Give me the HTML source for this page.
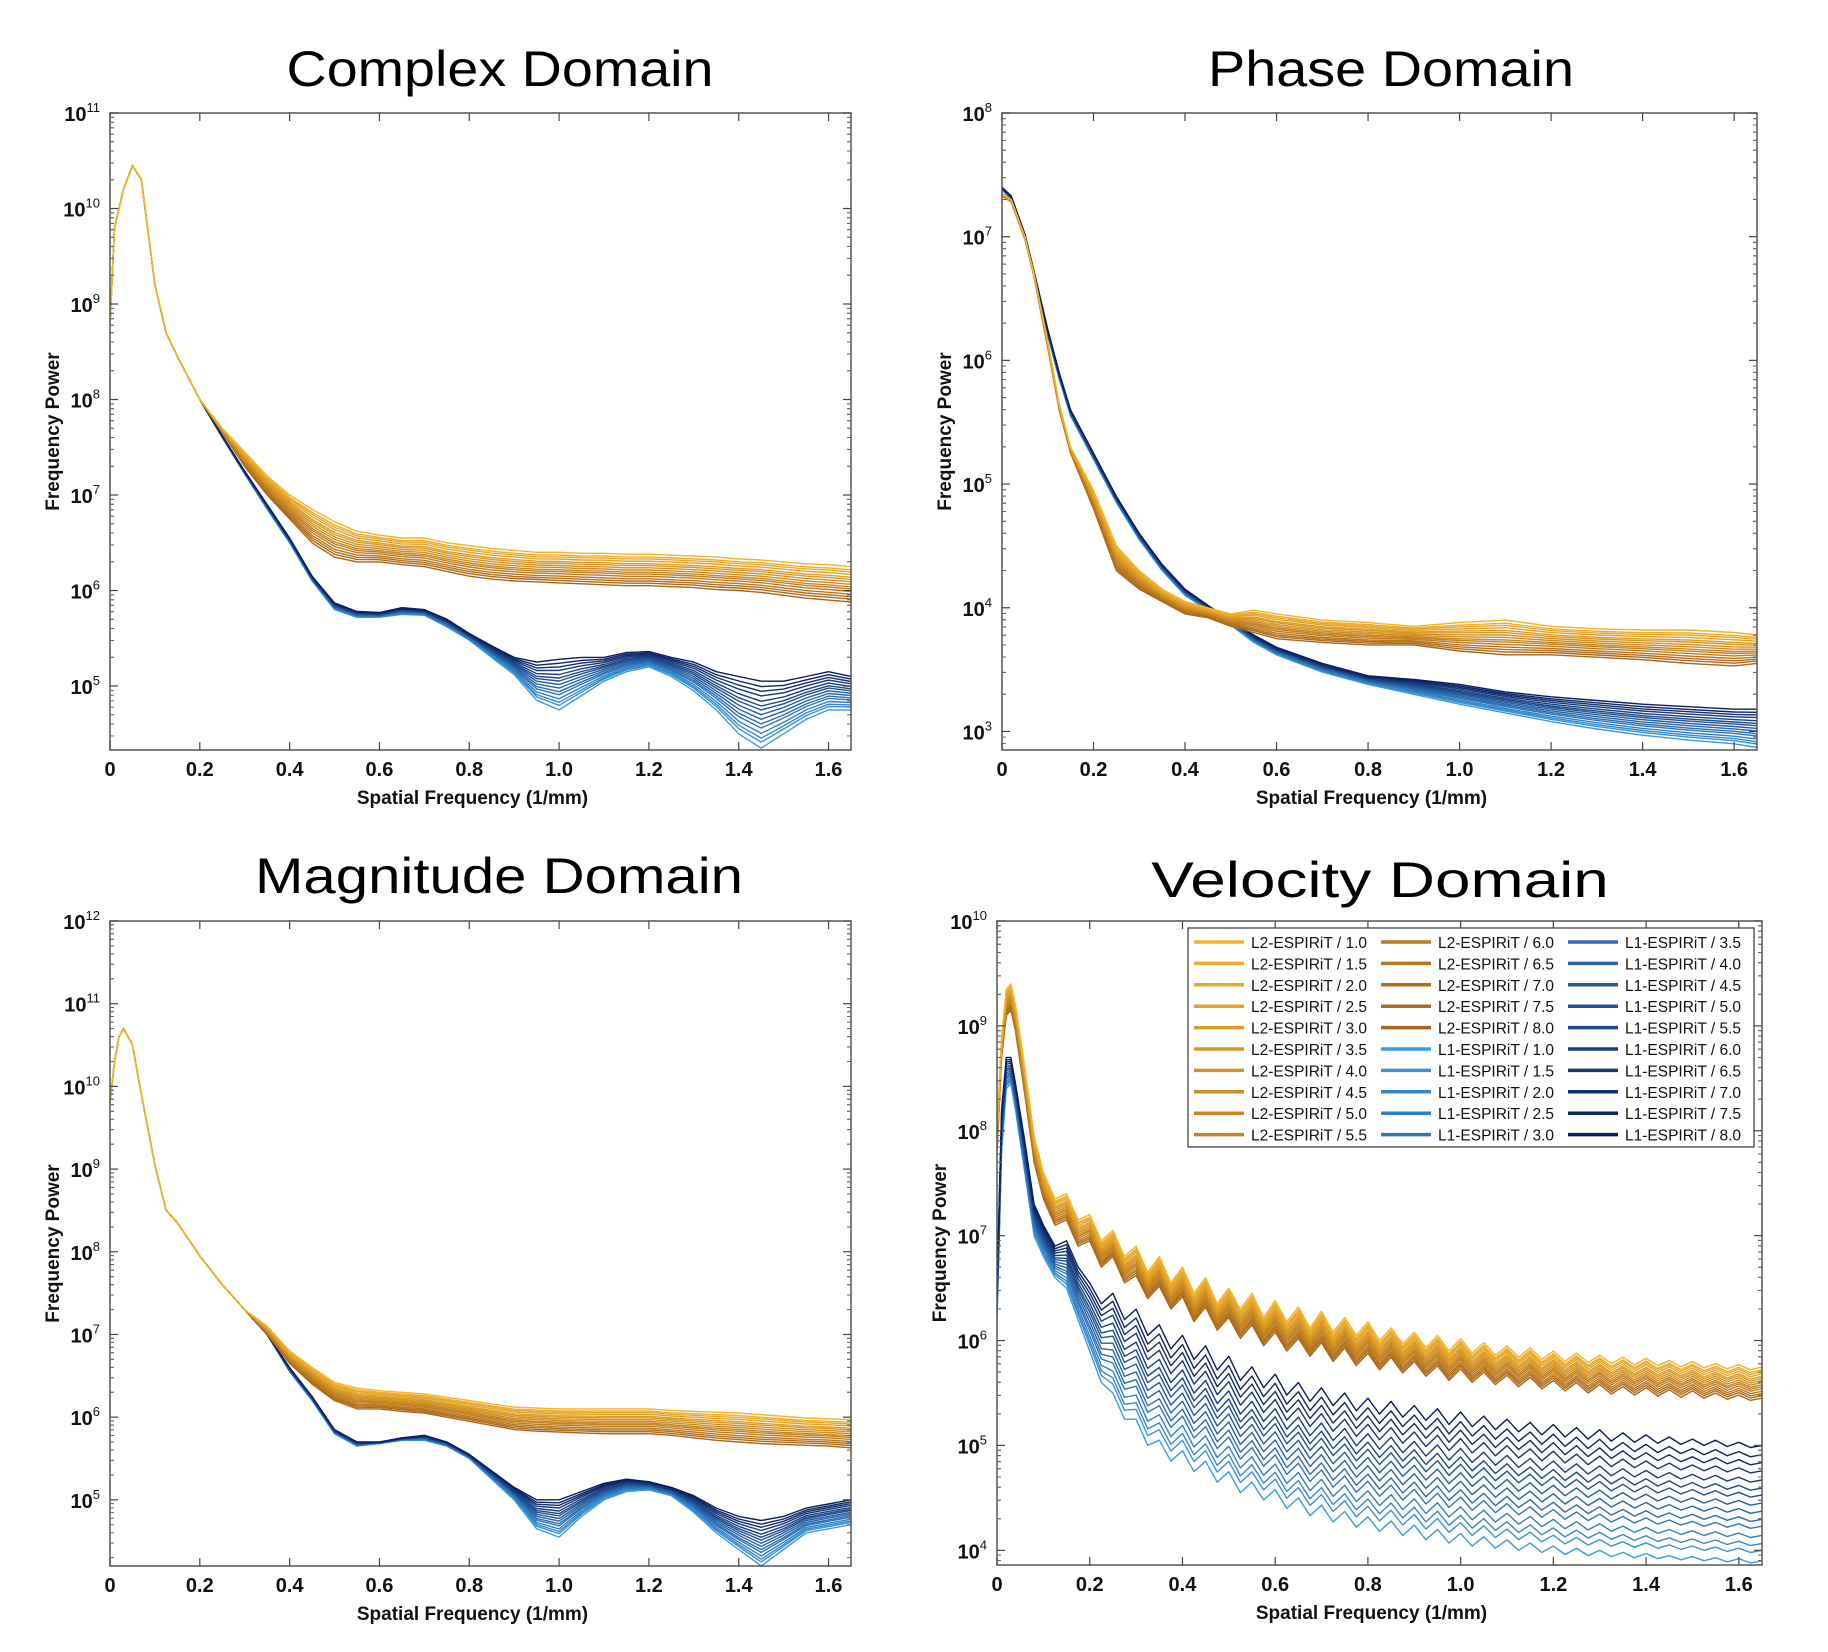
<!DOCTYPE html>
<html><head><meta charset="utf-8"><style>
html,body{margin:0;padding:0;background:#fff}
svg{display:block}
text{font-family:"Liberation Sans",sans-serif}
</style></head><body>
<svg id="fig" width="1828" height="1652" viewBox="0 0 1828 1652"></svg>
<script>
// ---------- DATA (log10 of frequency power) ----------
const regLabels=["1.0","1.5","2.0","2.5","3.0","3.5","4.0","4.5","5.0","5.5","6.0","6.5","7.0","7.5","8.0"];
const spread=[0,0.09,0.15,0.22,0.3,0.36,0.43,0.5,0.57,0.63,0.7,0.78,0.85,0.92,1];

const cX=[0,0.01,0.02,0.03,0.05,0.07,0.1,0.125,0.15,0.2,0.25,0.3,0.35,0.4,0.45,0.5,0.55,0.6,0.65,0.7,0.75,0.8,0.85,0.9,0.95,1.0,1.05,1.1,1.15,1.2,1.25,1.3,1.35,1.4,1.45,1.5,1.55,1.6,1.65];
const cL2hi=[8.8,9.8,10.0,10.2,10.45,10.3,9.2,8.7,8.45,8.0,7.7,7.45,7.2,7.0,6.85,6.72,6.62,6.58,6.55,6.55,6.5,6.47,6.44,6.42,6.4,6.4,6.39,6.39,6.38,6.38,6.37,6.36,6.35,6.33,6.32,6.3,6.28,6.27,6.25];
const cL2lo=[8.8,9.8,10.0,10.2,10.45,10.3,9.2,8.7,8.45,8.0,7.65,7.3,7.0,6.75,6.5,6.35,6.3,6.3,6.27,6.25,6.2,6.15,6.12,6.1,6.09,6.08,6.07,6.06,6.05,6.05,6.04,6.03,6.01,6.0,5.98,5.95,5.92,5.9,5.88];
const cL1hi=[8.8,9.8,10.0,10.2,10.45,10.3,9.2,8.7,8.45,8.0,7.62,7.25,6.9,6.55,6.15,5.87,5.78,5.77,5.82,5.8,5.7,5.55,5.42,5.3,5.25,5.28,5.3,5.3,5.35,5.36,5.3,5.25,5.15,5.1,5.05,5.05,5.1,5.15,5.1];
const cL1lo=[8.8,9.8,10.0,10.2,10.45,10.3,9.2,8.7,8.45,8.0,7.6,7.22,6.85,6.5,6.1,5.8,5.72,5.72,5.75,5.74,5.62,5.48,5.3,5.12,4.85,4.75,4.9,5.05,5.15,5.2,5.1,4.95,4.75,4.5,4.35,4.5,4.65,4.75,4.75];

const pX=[0,0.02,0.05,0.07,0.1,0.125,0.15,0.2,0.25,0.3,0.35,0.4,0.45,0.5,0.55,0.6,0.7,0.8,0.9,1.0,1.1,1.2,1.3,1.4,1.5,1.6,1.65];
const pL2hi=[7.35,7.3,7.0,6.7,6.15,5.65,5.3,4.95,4.5,4.3,4.15,4.05,4.0,3.95,3.98,3.95,3.9,3.88,3.85,3.88,3.9,3.85,3.83,3.82,3.82,3.8,3.78];
const pL2lo=[7.33,7.28,6.98,6.68,6.1,5.6,5.25,4.8,4.3,4.15,4.05,3.95,3.92,3.85,3.8,3.75,3.72,3.7,3.7,3.65,3.62,3.62,3.6,3.58,3.55,3.53,3.55];
const pL1hi=[7.4,7.33,7.02,6.72,6.25,5.9,5.6,5.25,4.9,4.6,4.35,4.15,4.02,3.9,3.78,3.68,3.55,3.45,3.42,3.38,3.32,3.28,3.25,3.22,3.2,3.18,3.18];
const pL1lo=[7.38,7.3,7.0,6.7,6.2,5.85,5.55,5.2,4.85,4.55,4.3,4.1,3.98,3.86,3.72,3.62,3.48,3.38,3.3,3.22,3.15,3.08,3.02,2.97,2.93,2.9,2.87];

const mX=[0,0.01,0.02,0.03,0.05,0.07,0.1,0.125,0.15,0.2,0.25,0.3,0.35,0.4,0.45,0.5,0.55,0.6,0.65,0.7,0.75,0.8,0.85,0.9,0.95,1.0,1.05,1.1,1.15,1.2,1.25,1.3,1.35,1.4,1.45,1.5,1.55,1.6,1.65];
const mL2hi=[9.8,10.3,10.6,10.7,10.5,9.9,9.05,8.5,8.35,7.95,7.6,7.3,7.1,6.8,6.6,6.42,6.35,6.32,6.3,6.28,6.24,6.2,6.16,6.12,6.11,6.1,6.1,6.1,6.1,6.1,6.08,6.07,6.06,6.05,6.03,6.01,5.99,5.98,5.97];
const mL2lo=[9.8,10.3,10.6,10.7,10.5,9.9,9.05,8.5,8.35,7.95,7.6,7.3,7.0,6.65,6.4,6.2,6.1,6.1,6.07,6.05,6.0,5.95,5.9,5.85,5.83,5.82,5.81,5.8,5.8,5.8,5.78,5.75,5.72,5.7,5.68,5.67,5.66,5.65,5.63];
const mL1hi=[9.8,10.3,10.6,10.7,10.5,9.9,9.05,8.5,8.35,7.95,7.6,7.3,7.0,6.6,6.25,5.85,5.7,5.7,5.75,5.78,5.7,5.55,5.35,5.15,5.0,5.0,5.1,5.2,5.25,5.22,5.15,5.05,4.9,4.8,4.75,4.8,4.9,4.95,5.0];
const mL1lo=[9.8,10.3,10.6,10.7,10.5,9.9,9.05,8.5,8.35,7.95,7.6,7.3,7.0,6.55,6.2,5.8,5.65,5.68,5.72,5.72,5.65,5.5,5.25,5.0,4.65,4.55,4.8,5.0,5.1,5.12,5.05,4.85,4.6,4.4,4.2,4.4,4.6,4.65,4.7];

const vX=[0,0.01,0.02,0.03,0.04,0.06,0.08,0.1,0.125,0.15,0.175,0.2,0.225,0.25,0.275,0.3,0.325,0.35,0.375,0.4,0.425,0.45,0.475,0.5,0.525,0.55,0.575,0.6,0.625,0.65,0.675,0.7,0.725,0.75,0.775,0.8,0.825,0.85,0.875,0.9,0.925,0.95,0.975,1.0,1.025,1.05,1.075,1.1,1.125,1.15,1.175,1.2,1.225,1.25,1.275,1.3,1.325,1.35,1.375,1.4,1.425,1.45,1.475,1.5,1.525,1.55,1.575,1.6,1.625,1.65];
const vL2hi=[8.0,8.9,9.35,9.4,9.2,8.6,7.95,7.6,7.35,7.4,7.15,7.2,6.95,7.05,6.8,6.9,6.65,6.8,6.55,6.7,6.45,6.6,6.35,6.5,6.3,6.45,6.22,6.38,6.18,6.32,6.12,6.28,6.08,6.22,6.05,6.18,6.0,6.12,5.97,6.08,5.93,6.05,5.9,6.02,5.88,5.98,5.86,5.95,5.84,5.93,5.82,5.9,5.8,5.88,5.79,5.86,5.78,5.84,5.77,5.83,5.76,5.81,5.75,5.8,5.74,5.78,5.73,5.77,5.72,5.75];
const vL2lo=[7.8,8.7,9.1,9.15,8.95,8.35,7.7,7.35,7.1,7.15,6.9,6.95,6.7,6.8,6.55,6.62,6.4,6.52,6.3,6.42,6.18,6.32,6.1,6.22,6.02,6.15,5.95,6.08,5.9,6.02,5.85,5.98,5.8,5.93,5.76,5.88,5.72,5.84,5.69,5.8,5.66,5.76,5.62,5.73,5.6,5.7,5.58,5.67,5.56,5.65,5.54,5.62,5.52,5.6,5.5,5.58,5.49,5.56,5.48,5.55,5.47,5.53,5.46,5.52,5.45,5.5,5.44,5.48,5.43,5.45];
const vL1hi=[6.5,8.2,8.7,8.7,8.45,7.9,7.3,7.1,6.9,6.95,6.7,6.55,6.35,6.45,6.2,6.3,6.05,6.15,5.92,6.05,5.82,5.95,5.72,5.85,5.62,5.75,5.55,5.68,5.48,5.6,5.42,5.55,5.38,5.5,5.33,5.45,5.3,5.42,5.27,5.38,5.24,5.35,5.2,5.32,5.18,5.28,5.15,5.25,5.13,5.22,5.1,5.2,5.08,5.17,5.06,5.15,5.04,5.12,5.03,5.1,5.02,5.08,5.01,5.06,5.0,5.05,4.99,5.03,4.98,5.0];
const vL1lo=[6.2,7.8,8.4,8.45,8.2,7.6,7.0,6.8,6.6,6.5,6.2,5.9,5.6,5.5,5.25,5.25,5.0,5.05,4.85,4.95,4.75,4.85,4.65,4.75,4.55,4.65,4.48,4.58,4.4,4.5,4.33,4.43,4.27,4.37,4.22,4.32,4.18,4.28,4.14,4.24,4.1,4.2,4.07,4.16,4.04,4.13,4.02,4.1,4.0,4.07,3.98,4.04,3.96,4.02,3.95,4.0,3.94,3.98,3.93,3.97,3.92,3.95,3.91,3.94,3.9,3.93,3.89,3.92,3.88,3.9];

const xTicks=[0,0.2,0.4,0.6,0.8,1.0,1.2,1.4,1.6];
const xTickLabels=["0","0.2","0.4","0.6","0.8","1.0","1.2","1.4","1.6"];

// ---------- RENDERING ----------
const NS="http://www.w3.org/2000/svg";
const svg=document.getElementById('fig');
function mk(tag,attrs,parent){const e=document.createElementNS(NS,tag);for(const k in attrs)e.setAttribute(k,attrs[k]);(parent||svg).appendChild(e);return e;}
function hex(c){return [parseInt(c.slice(1,3),16),parseInt(c.slice(3,5),16),parseInt(c.slice(5,7),16)];}
function mix(a,b,t){const A=hex(a),B=hex(b);return 'rgb('+A.map((v,i)=>Math.round(v+(B[i]-v)*t)).join(',')+')';}
function l2Color(i){return mix('#f3b42a','#a9661a',i/14);}
function l1Color(i){return mix('#3b9be0','#0c1c5c',i/14);}

const panels=[
 {name:'complex',title:'Complex Domain',tx:500,ty:86,L:110,R:851,T:113,B:750,ymin:4.33,ymax:11,x:cX,a:[cL2hi,cL2lo],b:[cL1hi,cL1lo]},
 {name:'phase',title:'Phase Domain',tx:1391,ty:86,L:1002,R:1757,T:113,B:750,ymin:2.85,ymax:8,x:pX,a:[pL2hi,pL2lo],b:[pL1hi,pL1lo]},
 {name:'magnitude',title:'Magnitude Domain',tx:499,ty:893,L:110,R:851,T:921,B:1566,ymin:4.2,ymax:12,x:mX,a:[mL2hi,mL2lo],b:[mL1hi,mL1lo]},
 {name:'velocity',title:'Velocity Domain',tx:1380,ty:897,L:997,R:1762,T:921,B:1565,ymin:3.86,ymax:10,x:vX,a:[vL2hi,vL2lo],b:[vL1hi,vL1lo],legend:true}
];

panels.forEach(p=>{
  const g=mk('g',{});
  
  
  const xs=v=>p.L+(v/1.65)*(p.R-p.L);
  const ys=v=>p.B-(v-p.ymin)/(p.ymax-p.ymin)*(p.B-p.T);
  const t=mk('text',{x:p.tx,y:p.ty,'text-anchor':'middle','font-size':50,fill:'#000',textLength:p.title.length*30.5,lengthAdjust:'spacingAndGlyphs'},g);
  t.textContent=p.title;
  
  
  const clipId='clip-'+p.name;
  const cp=mk('clipPath',{id:clipId},g);mk('rect',{x:p.L,y:p.T,width:p.R-p.L,height:p.B-p.T},cp);
  const lines=mk('g',{'clip-path':'url(#'+clipId+')'},g);
  function series(hi,lo,w,color,nm){
    const n=Math.min(p.x.length,hi.length,lo.length);
    let d='';
    for(let k=0;k<n;k++){const v=lo[k]+w*(hi[k]-lo[k]);d+=(k?'L':'M')+xs(p.x[k]).toFixed(1)+' '+ys(v).toFixed(1);}
    const e=mk('path',{d:d,fill:'none',stroke:color,'stroke-width':1.4,'stroke-linejoin':'round'},lines);
    
    
  }
  for(let i=0;i<15;i++) series(p.b[0],p.b[1],spread[i],l1Color(i),p.name+'-l1-line-'+regLabels[i]);
  for(let i=14;i>=0;i--) series(p.a[0],p.a[1],1-spread[i],l2Color(i),p.name+'-l2-line-'+regLabels[i]);
  const fr=mk('rect',{x:p.L,y:p.T,width:p.R-p.L,height:p.B-p.T,fill:'none',stroke:'#555','stroke-width':1.5},g);
  
  
  xTicks.forEach((v,i)=>{
    const X=xs(v);
    mk('line',{x1:X,y1:p.B,x2:X,y2:p.B-8,stroke:'#444','stroke-width':1.2},g);
    mk('line',{x1:X,y1:p.T,x2:X,y2:p.T+8,stroke:'#444','stroke-width':1.2},g);
    const tl=mk('text',{x:X,y:p.B+26,'text-anchor':'middle','font-size':20,'font-weight':'bold',fill:'#111'},g);
    tl.textContent=xTickLabels[i];
    
    
  });
  for(let d=Math.ceil(p.ymin);d<=Math.floor(p.ymax);d++){
    const Y=ys(d);
    mk('line',{x1:p.L,y1:Y,x2:p.L+8,y2:Y,stroke:'#444','stroke-width':1.2},g);
    mk('line',{x1:p.R,y1:Y,x2:p.R-8,y2:Y,stroke:'#444','stroke-width':1.2},g);
    const tl=mk('text',{x:p.L-10,y:Y+8,'text-anchor':'end','font-size':20,'font-weight':'bold',fill:'#111'},g);
    
    
    const a=mk('tspan',{},tl);a.textContent='10';
    const b=mk('tspan',{dy:-9,'font-size':13,'font-weight':'normal'},tl);b.textContent=String(d);
    for(let m=2;m<10;m++){
      const v=d+Math.log10(m);if(v>p.ymax)break;
      const Ym=ys(v);
      mk('line',{x1:p.L,y1:Ym,x2:p.L+4,y2:Ym,stroke:'#666','stroke-width':1},g);
      mk('line',{x1:p.R,y1:Ym,x2:p.R-4,y2:Ym,stroke:'#666','stroke-width':1},g);
    }
    for(let m=2;m<10;m++){
      const v=d-1+Math.log10(m);if(v<p.ymin)continue;if(v>=d)break;
      const Ym=ys(v);
      mk('line',{x1:p.L,y1:Ym,x2:p.L+4,y2:Ym,stroke:'#666','stroke-width':1},g);
      mk('line',{x1:p.R,y1:Ym,x2:p.R-4,y2:Ym,stroke:'#666','stroke-width':1},g);
    }
  }
  const xt=mk('text',{x:(p.L+p.R)/2-8,y:p.B+54,'text-anchor':'middle','font-size':19,'font-weight':'bold',fill:'#111'},g);
  xt.textContent='Spatial Frequency (1/mm)';
  
  
  const cy=(p.T+p.B)/2, cx=p.L-51;
  const yt=mk('text',{x:cx,y:cy,'text-anchor':'middle','font-size':19,'font-weight':'bold',fill:'#111',transform:'rotate(-90 '+cx+' '+cy+')'},g);
  yt.textContent='Frequency Power';
  
  

  if(p.legend){
    const lg=mk('g',{},g);
    
    
    mk('rect',{x:1188,y:928,width:566,height:219,fill:'#fff',stroke:'#333','stroke-width':1.2},lg);
    const entries=[];
    for(let i=0;i<15;i++)entries.push({t:'L2-ESPIRiT / '+regLabels[i],c:l2Color(i)});
    for(let i=0;i<15;i++)entries.push({t:'L1-ESPIRiT / '+regLabels[i],c:l1Color(i)});
    entries.forEach((e,k)=>{
      const col=Math.floor(k/10),row=k%10;
      const x0=1194+col*187,y0=942+row*21.4;
      const eg=mk('g',{},lg);
      
      
      mk('line',{x1:x0,y1:y0,x2:x0+50,y2:y0,stroke:e.c,'stroke-width':3.5},eg);
      const tt=mk('text',{x:x0+57,y:y0+6,'font-size':15.5,fill:'#111'},eg);
      tt.textContent=e.t;
    });
  }
});
</script>
</body></html>
